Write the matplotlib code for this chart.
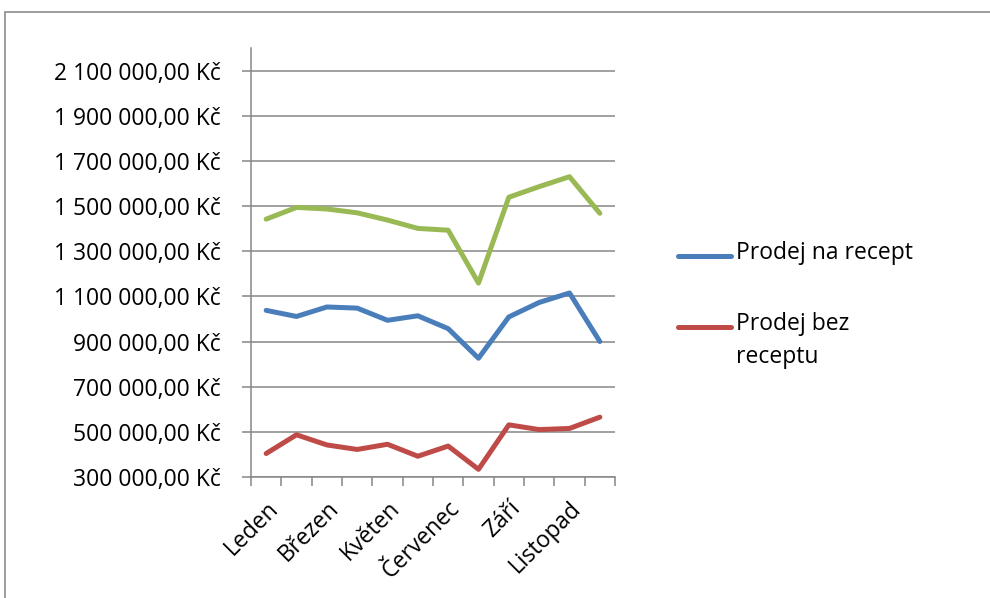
import matplotlib
matplotlib.use('Agg')
import matplotlib.pyplot as plt
from matplotlib.patches import Rectangle
from matplotlib.lines import Line2D
from matplotlib.transforms import ScaledTranslation
from matplotlib.ticker import FuncFormatter, FixedLocator

# ── data ────────────────────────────────────────────────────────────────
months = ['Leden', 'Únor', 'Březen', 'Duben', 'Květen', 'Červen',
          'Červenec', 'Srpen', 'Září', 'Říjen', 'Listopad', 'Prosinec']
na_recept = [1038000, 1011000, 1053000, 1048000, 994000, 1014000,
             957000, 826000, 1009000, 1073000, 1115000, 900000]
bez_receptu = [404000, 487000, 442000, 422000, 445000, 392000,
               437000, 334000, 531000, 510000, 515000, 565000]
celkem = [1442000, 1494000, 1487000, 1470000, 1438000, 1401000,
          1393000, 1159000, 1539000, 1586000, 1630000, 1468000]
y_ticks = list(range(300000, 2100001, 200000))
legend_labels = ['Prodej na recept', 'Prodej bez\nreceptu']

BLUE, RED, GREEN = '#4a7ebb', '#be4b48', '#98b954'
GRID = '#868686'
FS = 16.5

plt.rcParams['font.family'] = ['Open Sans', 'DejaVu Sans']
plt.rcParams['font.size'] = FS

W, H = 990, 598
fig = plt.figure(figsize=(W / 100, H / 100), dpi=100)
fig.patch.set_facecolor('white')

# chart area border (runs off right/bottom edge)
fig.add_artist(Rectangle((5 / W, -0.05), 1.0, 1 - 12 / H + 0.05,
                         transform=fig.transFigure, fill=False,
                         edgecolor='#8c8c8c', lw=1.2))

ax = fig.add_axes([251 / W, 1 - 477 / H, (615 - 251) / W, (477 - 48) / H])

x = range(len(months))
lw = 3.6
line_kw = dict(lw=lw, solid_capstyle='round', solid_joinstyle='round')
ax.plot(x, celkem, color=GREEN, **line_kw)
ax.plot(x, na_recept, color=BLUE, **line_kw)
ax.plot(x, bez_receptu, color=RED, **line_kw)

ax.set_xlim(-0.5, len(months) - 0.5)
ax.set_ylim(300000, 2200000)

# y axis
ax.yaxis.set_major_locator(FixedLocator(y_ticks))
ax.yaxis.set_major_formatter(FuncFormatter(
    lambda v, _: f'{int(v):,}'.replace(',', ' ') + ',00 Kč'))
ax.grid(axis='y', color=GRID, lw=1.1)
ax.set_axisbelow(True)
ax.tick_params(axis='y', length=6.5, width=1.1, color=GRID, pad=15)

# x axis: tick marks between categories, labels on every other month
ax.xaxis.set_major_locator(FixedLocator([i - 0.5 for i in range(len(months) + 1)]))
ax.xaxis.set_major_formatter(FuncFormatter(lambda v, _: ''))
ax.xaxis.set_minor_locator(FixedLocator(list(range(0, len(months), 2))))
ax.set_xticklabels([months[i] for i in range(0, len(months), 2)], minor=True,
                   rotation=45, ha='right', va='top', rotation_mode='anchor')
shift = ScaledTranslation(1 / 100, 0, fig.dpi_scale_trans)
for lab in ax.get_xticklabels(minor=True):
    lab.set_transform(lab.get_transform() + shift)
ax.tick_params(axis='x', which='major', length=6.5, width=1.1, color=GRID)
ax.tick_params(axis='x', which='minor', length=0, pad=14)

for s in ('top', 'right'):
    ax.spines[s].set_visible(False)
for s in ('left', 'bottom'):
    ax.spines[s].set_color(GRID)
    ax.spines[s].set_linewidth(1.1)

# legend: handle sits on the first text line
for (color, label, y) in zip([BLUE, RED], legend_labels, [256, 327]):
    fig.add_artist(Line2D([678 / W, 731 / W], [1 - y / H] * 2, color=color,
                          lw=lw, solid_capstyle='round',
                          transform=fig.transFigure))
    fig.text(736 / W, 1 - (y - 15) / H, label, va='top', ha='left',
             fontsize=FS, linespacing=1.5)

fig.savefig('out.png', dpi=100)
